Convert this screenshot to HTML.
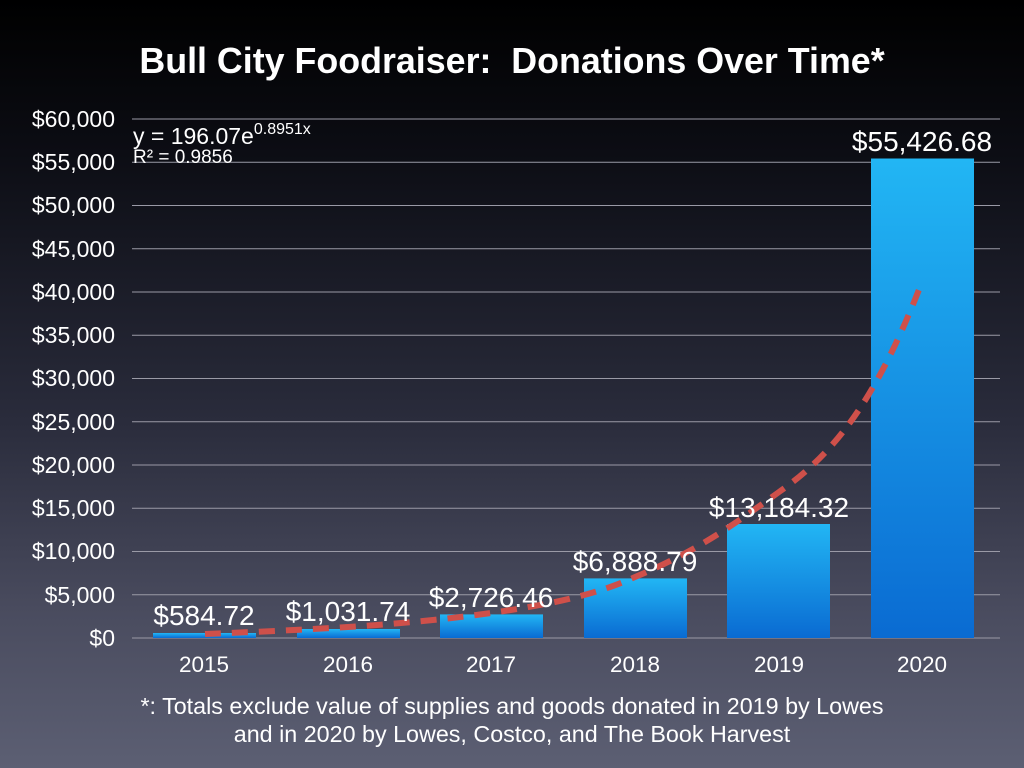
<!DOCTYPE html>
<html><head><meta charset="utf-8"><style>
html,body{margin:0;padding:0;width:1024px;height:768px;overflow:hidden}
body{background:linear-gradient(#000 0%,#0c0d14 20%,#2a2c3c 55%,#4a4c5f 80%,#5c5f73 100%);}
svg{display:block;font-family:"Liberation Sans",sans-serif}
</style></head><body>
<svg width="1024" height="768" viewBox="0 0 1024 768">
<defs>
<linearGradient id="b" x1="0" y1="0" x2="0" y2="1">
<stop offset="0" stop-color="#22b6f4"/><stop offset="1" stop-color="#0a6bd2"/>
</linearGradient>
</defs>
<text x="512" y="73" fill="#fff" font-size="35.8" font-weight="bold" text-anchor="middle" xml:space="preserve">Bull City Foodraiser:  Donations Over Time*</text>
<g stroke="#9a9aa6" stroke-width="1">
<line x1="132" x2="1000" y1="119" y2="119"/><line x1="132" x2="1000" y1="162.25" y2="162.25"/>
<line x1="132" x2="1000" y1="205.5" y2="205.5"/><line x1="132" x2="1000" y1="248.75" y2="248.75"/>
<line x1="132" x2="1000" y1="292" y2="292"/><line x1="132" x2="1000" y1="335.25" y2="335.25"/>
<line x1="132" x2="1000" y1="378.5" y2="378.5"/><line x1="132" x2="1000" y1="421.75" y2="421.75"/>
<line x1="132" x2="1000" y1="465" y2="465"/><line x1="132" x2="1000" y1="508.25" y2="508.25"/>
<line x1="132" x2="1000" y1="551.5" y2="551.5"/><line x1="132" x2="1000" y1="594.75" y2="594.75"/>
<line x1="132" x2="1000" y1="638" y2="638"/>
</g>
<g fill="#fff" font-size="23" text-anchor="end">
<text x="115" y="127">$60,000</text><text x="115" y="170">$55,000</text><text x="115" y="213">$50,000</text>
<text x="115" y="257">$45,000</text><text x="115" y="300">$40,000</text><text x="115" y="343">$35,000</text>
<text x="115" y="386">$30,000</text><text x="115" y="430">$25,000</text><text x="115" y="473">$20,000</text>
<text x="115" y="516">$15,000</text><text x="115" y="559">$10,000</text><text x="115" y="603">$5,000</text>
<text x="115" y="646">$0</text>
</g>
<g fill="url(#b)">
<rect x="153" y="633" width="103" height="5"/>
<rect x="297" y="629" width="103" height="9"/>
<rect x="440" y="614.4" width="103" height="23.6"/>
<rect x="584" y="578.4" width="103" height="59.6"/>
<rect x="727" y="524" width="103" height="114"/>
<rect x="871" y="158.5" width="103" height="479.5"/>
</g>
<path fill="none" stroke="#cf504a" stroke-width="6" stroke-dasharray="16 11" d="M205,634 C300,630 400,626 491,613 C560,603 600,593 635,577 C700,550 740,520 779,492 C840,450 880,390 922,282"/>
<g fill="#fff" font-size="28" text-anchor="middle">
<text x="204" y="625">$584.72</text><text x="348" y="621">$1,031.74</text><text x="491" y="607">$2,726.46</text>
<text x="635" y="571">$6,888.79</text><text x="779" y="517">$13,184.32</text><text x="922" y="151">$55,426.68</text>
</g>
<g fill="#fff" font-size="22.5" text-anchor="middle">
<text x="204" y="672">2015</text><text x="348" y="672">2016</text><text x="491" y="672">2017</text>
<text x="635" y="672">2018</text><text x="779" y="672">2019</text><text x="922" y="672">2020</text>
</g>
<text x="133" y="144" fill="#fff" font-size="23">y = 196.07e<tspan font-size="16" dy="-10">0.8951x</tspan></text>
<text x="133" y="163" fill="#fff" font-size="19">R² = 0.9856</text>
<g fill="#fff" font-size="23.3" text-anchor="middle">
<text x="512" y="714">*: Totals exclude value of supplies and goods donated in 2019 by Lowes</text>
<text x="512" y="742">and in 2020 by Lowes, Costco, and The Book Harvest</text>
</g>
</svg>
</body></html>
